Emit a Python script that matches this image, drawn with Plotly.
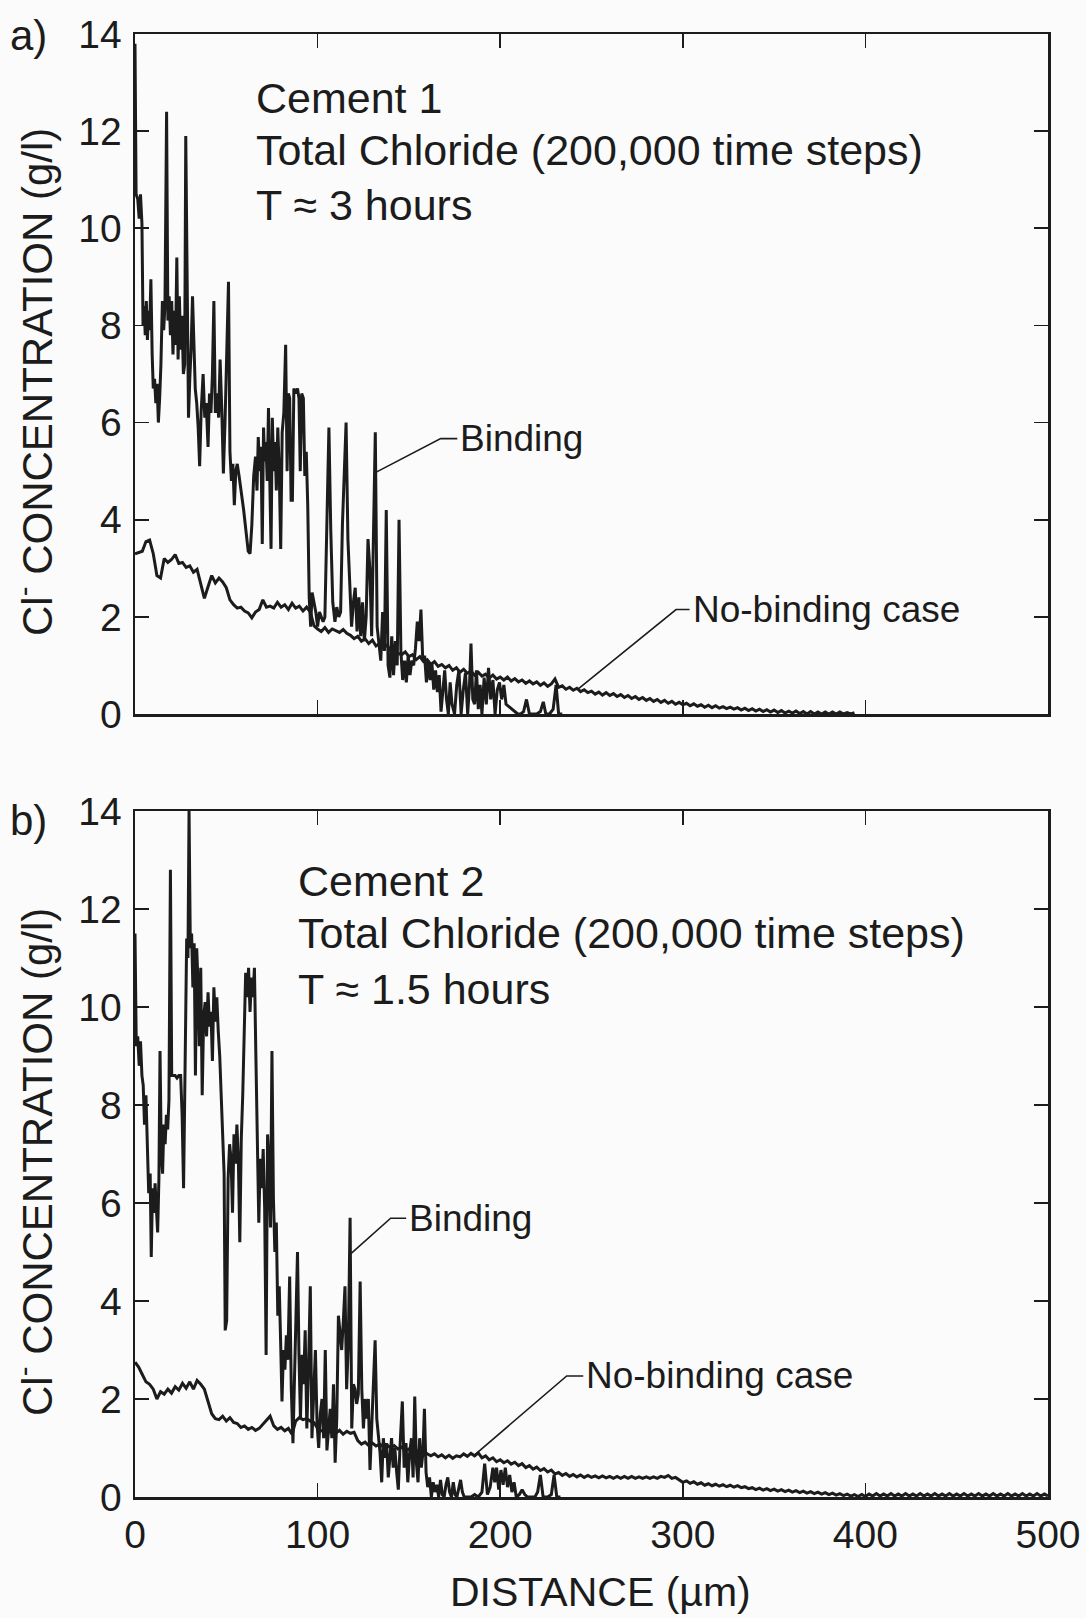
import plotly.graph_objects as go

# ---------------- data ----------------
X_TICKS = [0, 100, 200, 300, 400, 500]
Y_TICKS = [0, 2, 4, 6, 8, 10, 12, 14]

# Panel a) Cement 1 - binding case
A_BIND_X = [0, 0.6, 1.5, 2.3, 3.0, 3.8, 4.4, 5.0, 5.6, 6.2, 6.8, 7.4, 8.0, 8.7, 9.4, 10.0, 10.7, 11.4, 12.1, 12.8,
            13.5, 14.2, 15.0, 15.7, 16.4, 17.3, 18.0, 18.7, 19.4, 20.1, 20.8, 21.5, 22.2, 22.9, 23.6, 24.3, 25.0, 25.7,
            26.5, 27.2, 27.8, 28.6, 29.3, 30.0, 30.7, 31.5, 32.2, 33.0, 33.8, 34.6, 35.4, 36.2, 37.3, 38.2, 39.0, 40.0,
            40.8, 41.6, 42.4, 43.2, 44.0, 45.0, 45.8, 46.6, 47.5, 48.4, 49.3, 50.2, 51.2, 52.0, 52.8, 53.6, 54.4, 55.2,
            56.0, 57.0, 59.5, 62.0, 63.0, 64.0, 65.0, 66.0, 66.8, 67.5, 68.3, 69.0, 69.7, 70.4, 71.0, 71.7, 72.4, 73.1,
            73.8, 74.5, 75.2, 76.0, 76.7, 77.4, 78.2, 79.0, 79.8, 80.6, 81.5, 82.5, 83.3, 84.0, 84.7, 85.5, 86.2, 87.0,
            88.0, 89.0, 89.8, 90.5, 91.3, 92.2, 93.0, 93.8, 94.6, 95.4, 96.2, 97.0, 98.0, 99.0, 100.0, 101.0, 102.0,
            103.0, 104.0, 105.0, 106.2, 107.2, 108.3, 109.5, 110.5, 111.6, 112.6, 113.6, 114.6, 115.6, 116.6, 117.6,
            118.6, 119.6, 120.6, 121.6, 122.6, 123.6, 124.6, 125.6, 126.6, 127.6, 128.6, 129.6, 130.6, 131.6, 132.6,
            133.6, 134.6, 135.6, 136.6, 137.6, 138.6, 139.6, 140.6, 141.6, 142.6, 143.6, 144.6, 145.6, 146.6, 147.6,
            148.6, 149.6, 150.6, 151.6, 152.6, 153.6, 154.6, 155.6, 156.6, 157.6, 158.6, 159.6, 160.6, 161.6, 162.6,
            163.6, 164.6, 165.6, 166.6, 167.6, 168.6, 169.6, 170.6, 171.6, 172.6, 173.6, 175.0, 176.2, 177.4, 178.6,
            179.8, 181.0, 182.2, 183.2, 184.0, 185.0, 186.0, 187.0, 188.0, 189.0, 190.0, 191.2, 192.4, 193.6, 194.8,
            196.0, 197.2, 198.4, 199.6, 200.8, 202.0, 203.2, 204.8, 206.4, 208.0, 209.6, 211.2, 212.8, 214.4, 216.0,
            218.0, 220.0, 222.0, 223.6, 225.0, 227.0, 229.0, 230.6, 232.0, 234.0]
A_BIND_Y = [13.8, 10.7, 10.6, 10.2, 10.7, 10.1, 8.0, 8.4, 7.8, 8.5, 7.7, 8.3, 7.9, 8.95, 7.4, 6.7, 6.9, 6.4, 6.8, 6.0,
            6.5, 7.2, 8.5, 7.9, 8.4, 12.4, 8.1, 8.6, 7.8, 8.5, 7.4, 8.3, 7.6, 9.4, 7.3, 8.6, 7.5, 8.2,
            7.0, 7.2, 11.9, 7.7, 6.1, 6.9, 7.5, 8.6, 7.6, 6.7, 6.4, 5.9, 5.1, 6.2, 7.0, 6.1, 6.4, 5.5,
            6.6, 6.2, 7.0, 8.5, 6.2, 6.6, 6.1, 7.3, 6.3, 4.95, 6.0, 7.2, 8.9, 5.4, 4.8, 5.15, 4.3, 5.0,
            5.15, 4.9, 4.2, 3.35, 3.3, 3.9, 4.9, 5.3, 4.6, 5.7, 5.0, 5.5, 3.5, 5.9, 5.2, 5.6, 4.8, 6.3,
            5.1, 3.4, 6.1, 5.0, 5.6, 4.6, 5.9, 5.0, 3.4, 5.8, 6.2, 7.6, 5.0, 6.6, 6.5, 4.4, 4.4, 6.7,
            6.6, 6.7, 6.5, 5.0, 6.6, 6.5, 4.9, 5.4, 4.3, 2.4, 1.8, 2.5, 2.3, 2.1, 1.8, 2.1, 2.0,
            1.9, 2.0, 4.1, 5.9, 3.8, 2.3, 1.9, 2.2, 2.0, 2.1, 3.9, 4.8, 6.0, 3.6, 2.6,
            1.8, 2.3, 2.6, 1.7, 2.4, 1.6, 2.3, 1.5, 2.0, 3.6, 3.0, 1.6, 3.7, 5.8, 1.8,
            1.4, 1.1, 2.1, 1.3, 4.2, 1.0, 0.75, 1.6, 0.8, 1.5, 1.0, 4.0, 1.3, 0.7, 1.1,
            0.65, 1.2, 0.8, 1.1, 1.0, 1.35, 1.9, 1.5, 2.15, 1.1, 1.2, 0.65, 1.1, 0.7, 1.05,
            0.5, 0.9, 0.45, 0.8, 0.05, 0.5, 0.9, 0.3, 0.0, 0.65, 0.2, 0.0, 0.6, 0.9, 0.0,
            0.5, 0.85, 0.0, 0.6, 1.45, 0.3, 0.2, 0.9, 0.1, 0.6, 0.0, 0.75, 0.2, 0.95, 0.3,
            0.7, 0.0, 0.5, 0.65, 0.3, 0.6, 0.2, 0.15, 0.1, 0.05, 0.0, 0.0, 0.05, 0.3, 0.0,
            0.0, 0.0, 0.05, 0.25, 0.0, 0.0, 0.1, 0.6, 0.0, 0.0]

# Panel a) Cement 1 - no-binding case (sampled every 2 um)
A_NOBIND_X = list(range(0, 396, 2))
A_NOBIND_Y = [3.30, 3.32, 3.35, 3.55, 3.58, 3.30, 2.85, 2.80, 3.20, 3.12, 3.18, 3.28, 3.10, 3.12, 3.02, 3.05, 2.92,
              2.98, 2.70, 2.38, 2.62, 2.85, 2.70, 2.80, 2.72, 2.60, 2.35, 2.25, 2.18, 2.20, 2.12, 2.08, 1.98, 2.10,
              2.15, 2.35, 2.20, 2.22, 2.18, 2.30, 2.20, 2.25, 2.15, 2.28, 2.18, 2.22, 2.12, 2.20, 2.10, 1.82, 1.75,
              1.70, 1.78, 1.68, 1.75, 1.72, 1.68, 1.74, 1.66, 1.62, 1.55, 1.60, 1.50, 1.55, 1.45, 1.52, 1.40, 1.45,
              1.35, 1.42, 1.30, 1.36, 1.25, 1.22, 1.28, 1.18, 1.22, 1.12, 1.18, 1.08, 1.12, 1.02, 1.08, 0.98, 1.02,
              0.95, 1.00, 0.90, 0.95, 0.86, 0.92, 0.84, 0.88, 0.80, 0.86, 0.78, 0.82, 0.74, 0.80, 0.72, 0.76, 0.70,
              0.76, 0.68, 0.73, 0.66, 0.70, 0.63, 0.68, 0.62, 0.66, 0.59, 0.64, 0.57, 0.62, 0.72, 0.55, 0.58, 0.51,
              0.55, 0.49, 0.53, 0.46, 0.50, 0.44, 0.47, 0.41, 0.45, 0.39, 0.44, 0.38, 0.42, 0.36, 0.40, 0.34, 0.38,
              0.32, 0.36, 0.30, 0.34, 0.28, 0.32, 0.26, 0.30, 0.24, 0.28, 0.22, 0.26, 0.20, 0.24, 0.19, 0.22, 0.17,
              0.21, 0.16, 0.19, 0.14, 0.18, 0.13, 0.17, 0.12, 0.15, 0.11, 0.14, 0.10, 0.13, 0.08, 0.12, 0.07, 0.11,
              0.06, 0.10, 0.05, 0.09, 0.04, 0.08, 0.03, 0.07, 0.02, 0.06, 0.02, 0.06, 0.01, 0.05, 0.00, 0.05, 0.00,
              0.04, 0.00, 0.04, 0.00, 0.04, 0.00, 0.04, 0.00, 0.03, 0.00, 0.03, 0.00, 0.01]

# Panel b) Cement 2 - binding case
B_BIND_X = [0, 0.7, 1.5, 2.3, 3.0, 3.8, 4.5, 5.2, 6.0, 6.8, 7.5, 8.3, 8.9, 9.6, 10.3, 11.0, 11.7, 12.4, 13.1, 13.7,
            14.4, 15.1, 15.8, 16.5, 17.2, 17.9, 18.6, 19.4, 20.1, 21.0, 22.0, 23.0, 24.0, 25.0, 25.8, 26.6, 27.4,
            28.3, 29.0, 29.6, 30.3, 31.0, 31.7, 32.4, 33.1, 33.8, 34.5, 35.2, 36.0, 36.8, 37.6, 38.4, 39.2, 40.0,
            40.8, 41.6, 42.4, 43.2, 44.0, 44.8, 45.6, 46.4, 47.2, 48.0, 48.8, 49.4, 50.2, 51.0, 51.8, 52.6, 53.4,
            54.2, 55.0, 55.8, 56.6, 57.4, 58.2, 59.0, 59.8, 60.6, 61.4, 62.2, 63.0, 63.8, 64.6, 65.4, 66.2, 67.0,
            67.8, 68.6, 69.4, 70.2, 71.0, 71.8, 72.6, 73.4, 74.2, 75.0, 75.8, 76.6, 77.4, 78.2, 79.0, 79.8, 80.5,
            81.3, 82.1, 82.9, 83.7, 84.7, 85.6, 86.5, 87.4, 88.2, 89.0, 89.8, 90.6, 91.5, 92.3, 93.2, 94.1, 95.0,
            96.0, 96.9, 97.8, 98.8, 99.7, 100.6, 101.5, 102.4, 103.3, 104.2, 105.1, 106.0, 106.9, 107.8, 108.7,
            109.6, 110.5, 111.4, 112.3, 113.2, 114.1, 115.0, 115.9, 116.8, 117.8, 118.7, 119.6, 120.5, 121.4,
            122.3, 123.3, 124.2, 125.1, 126.0, 126.9, 127.8, 128.7, 129.6, 130.5, 131.5, 132.4, 133.3, 134.2,
            135.1, 136.0, 136.9, 137.8, 138.7, 139.6, 140.5, 141.4, 142.3, 143.3, 144.2, 145.1, 146.4, 147.4,
            148.4, 149.4, 150.4, 151.4, 152.3, 153.2, 154.1, 155.0, 155.9, 156.8, 157.7, 158.5, 159.4, 160.3,
            161.3, 162.3, 163.3, 164.3, 165.3, 166.3, 167.3, 168.3, 169.3, 170.3, 171.3, 172.3, 173.3, 174.3,
            175.3, 176.3, 177.3, 178.3, 179.3, 180.3, 182.0, 184.0, 186.0, 188.0, 190.0, 191.5, 193.0, 194.5,
            196.0, 197.0, 198.0, 199.2, 200.4, 201.6, 202.8, 204.0, 205.2, 206.4, 207.6, 208.8, 210.5, 212.0,
            213.5, 215.0, 217.0, 219.0, 220.5, 222.0, 223.5, 226.0, 228.0, 229.5, 231.0, 233.0]
B_BIND_Y = [11.5, 9.2, 9.4, 8.8, 9.3, 8.6, 8.4, 7.6, 8.2, 6.9, 6.2, 6.6, 4.9, 6.3, 5.8, 6.4, 6.0, 5.4, 6.5, 9.1,
            7.0, 6.6, 7.6, 7.2, 7.8, 7.5, 8.1, 12.8, 8.6, 8.6, 8.6, 8.55, 8.6, 8.6, 7.8, 6.3, 8.9,
            11.4, 11.0, 14.0, 11.2, 11.5, 10.4, 11.3, 8.6, 11.2, 10.5, 9.2, 10.8, 8.2, 9.8, 10.1, 9.4, 10.3,
            9.6, 9.9, 8.9, 10.4, 9.7, 10.2, 9.5, 9.0, 8.2, 7.3, 6.6, 3.4, 3.6, 6.5, 7.2, 6.9, 5.8,
            7.4, 6.8, 7.6, 6.9, 5.2, 7.3, 8.2, 9.6, 10.7, 10.2, 10.8, 9.9, 10.6, 10.2, 10.8, 9.0, 6.8,
            5.6, 6.9, 6.3, 7.1, 5.9, 2.9, 7.4, 6.8, 5.5, 9.1, 6.1, 5.0, 5.6, 3.7, 4.3, 3.1, 1.95,
            3.0, 2.6, 3.3, 2.8, 4.5, 2.2, 1.1, 2.5, 3.2, 5.0, 2.9, 1.6, 2.9, 2.3, 3.4, 1.4, 2.6,
            4.3, 1.2, 1.9, 3.0, 1.5, 1.0, 1.7, 2.0, 1.2, 3.0, 0.95, 1.5, 1.8, 1.2, 2.3,
            0.7, 1.6, 3.7, 3.3, 3.0, 3.6, 4.3, 2.2, 3.1, 5.7, 1.4, 2.3, 2.2, 1.9,
            2.1, 4.4, 2.2, 1.4, 2.0, 1.6, 2.0, 0.55, 1.3, 2.3, 3.2, 1.6, 1.2, 0.9,
            0.3, 1.2, 0.8, 1.1, 0.4, 0.9, 1.2, 0.6, 1.0, 0.5, 0.15, 1.0, 1.95, 0.6,
            1.1, 0.3, 0.9, 1.2, 0.4, 2.05, 0.7, 0.3, 1.2, 0.6, 0.9, 1.8, 0.5, 0.2,
            0.4, 0.0, 0.3, 0.1, 0.25, 0.0, 0.35, 0.05, 0.0, 0.25, 0.4, 0.1, 0.0, 0.3,
            0.05, 0.0, 0.2, 0.35, 0.1, 0.0, 0.0, 0.0, 0.05, 0.0, 0.1, 0.68, 0.05, 0.2,
            0.6, 0.3, 0.6, 0.15, 0.55, 0.25, 0.6, 0.2, 0.45, 0.1, 0.3, 0.0, 0.05, 0.15,
            0.05, 0.0, 0.0, 0.0, 0.1, 0.45, 0.0, 0.0, 0.05, 0.45, 0.0, 0.0]

# Panel b) Cement 2 - no-binding case (sampled every 2 um)
B_NOBIND_X = list(range(0, 502, 2))
B_NOBIND_Y = [2.75, 2.65, 2.50, 2.35, 2.30, 2.20, 2.00, 2.15, 2.10, 2.20, 2.12, 2.25, 2.18, 2.32, 2.22, 2.35, 2.20,
              2.38, 2.30, 2.20, 1.95, 1.70, 1.60, 1.58, 1.65, 1.55, 1.62, 1.52, 1.50, 1.42, 1.45, 1.38, 1.42, 1.36,
              1.40, 1.48, 1.55, 1.65, 1.45, 1.38, 1.42, 1.35, 1.40, 1.28, 1.55, 1.62, 1.58, 1.60, 1.55, 1.52, 1.40,
              1.35, 1.38, 1.32, 1.38, 1.30, 1.36, 1.28, 1.34, 1.30, 1.32, 1.15, 1.08, 1.12, 1.05, 1.10, 1.04, 1.08,
              1.02, 1.06, 1.00, 1.05, 0.98, 1.02, 0.94, 0.98, 0.92, 0.96, 0.90, 0.95, 0.88, 0.84, 0.88, 0.82, 0.86,
              0.80, 0.85, 0.79, 0.84, 0.82, 0.88, 0.83, 0.89, 0.84, 0.90, 0.80, 0.84, 0.76, 0.80, 0.72, 0.76, 0.70,
              0.74, 0.67, 0.71, 0.64, 0.68, 0.60, 0.64, 0.57, 0.61, 0.54, 0.58, 0.51, 0.55, 0.47, 0.50, 0.44, 0.48,
              0.42, 0.46, 0.41, 0.45, 0.40, 0.44, 0.40, 0.43, 0.39, 0.43, 0.39, 0.42, 0.38, 0.42, 0.38, 0.42, 0.38,
              0.42, 0.38, 0.41, 0.38, 0.41, 0.38, 0.41, 0.38, 0.42, 0.40, 0.44, 0.38, 0.40, 0.35, 0.30, 0.33, 0.28,
              0.31, 0.26, 0.29, 0.24, 0.27, 0.23, 0.26, 0.22, 0.25, 0.21, 0.24, 0.20, 0.23, 0.19, 0.21, 0.17, 0.19,
              0.15, 0.18, 0.14, 0.17, 0.13, 0.16, 0.12, 0.15, 0.11, 0.14, 0.10, 0.13, 0.09, 0.12, 0.08, 0.11, 0.07,
              0.10, 0.06, 0.09, 0.05, 0.08, 0.04, 0.07, 0.03, 0.06, 0.02, 0.05, 0.01, 0.05, 0.01, 0.06, 0.02, 0.07,
              0.02, 0.06, 0.02, 0.07, 0.02, 0.06, 0.02, 0.07, 0.02, 0.06, 0.02, 0.07, 0.02, 0.06, 0.02, 0.07, 0.02,
              0.06, 0.02, 0.07, 0.02, 0.06, 0.02, 0.07, 0.02, 0.06, 0.02, 0.07, 0.02, 0.06, 0.02, 0.07, 0.02, 0.06,
              0.02, 0.07, 0.02, 0.06, 0.02, 0.07, 0.02, 0.06, 0.02, 0.07, 0.02, 0.06, 0.02, 0.07, 0.02, 0.06, 0.03]

# Label anchor points (data units): leader line start, elbow, end (text starts at the end)
LABELS_A = [("Binding", [(131.6, 4.97), (167.4, 5.67), (176.5, 5.67)]),
            ("No-binding case", [(242.6, 0.51), (296.3, 2.15), (303.7, 2.15)])]
LABELS_B = [("Binding", [(117.8, 4.95), (140.0, 5.69), (148.5, 5.69)]),
            ("No-binding case", [(185.4, 0.84), (236.4, 2.47), (245.5, 2.47)])]

# ---------------- styling ----------------
W, H = 1086, 1618
INK = "#1c1c1c"
BG = "#fbfbfb"
FONT = "Liberation Sans, Arial, Helvetica, sans-serif"

# plot-area boxes in page pixels (left, top, right, bottom)
BOX_A = (135, 34, 1048, 714)
BOX_B = (135, 811, 1048, 1497)


def px(xp):
    return xp / W


def py(yp):
    return 1 - yp / H


fig = go.Figure()

line_style = dict(color=INK, width=3)
fig.add_trace(go.Scatter(x=A_NOBIND_X, y=A_NOBIND_Y, mode="lines", line=line_style,
                         xaxis="x", yaxis="y", showlegend=False, hoverinfo="skip"))
fig.add_trace(go.Scatter(x=A_BIND_X, y=A_BIND_Y, mode="lines", line=line_style,
                         xaxis="x", yaxis="y", showlegend=False, hoverinfo="skip"))
fig.add_trace(go.Scatter(x=B_NOBIND_X, y=B_NOBIND_Y, mode="lines", line=line_style,
                         xaxis="x2", yaxis="y2", showlegend=False, hoverinfo="skip"))
fig.add_trace(go.Scatter(x=B_BIND_X, y=B_BIND_Y, mode="lines", line=line_style,
                         xaxis="x2", yaxis="y2", showlegend=False, hoverinfo="skip"))

axis_common = dict(
    showline=True, linecolor=INK, linewidth=2.5, mirror="ticks",
    ticks="inside", ticklen=14, tickwidth=1.6, tickcolor=INK,
    showgrid=False, zeroline=False, fixedrange=True, automargin=False,
    tickfont=dict(family=FONT, size=39, color=INK),
)

fig.update_layout(
    width=W, height=H, autosize=False,
    margin=dict(l=0, r=0, t=0, b=0, pad=0, autoexpand=False),
    paper_bgcolor=BG, plot_bgcolor=BG,
    showlegend=False,
    xaxis=dict(axis_common, domain=[px(BOX_A[0]), px(BOX_A[2])], anchor="y", range=[0, 500],
               tickmode="array", tickvals=X_TICKS, showticklabels=False),
    yaxis=dict(axis_common, domain=[py(BOX_A[3]), py(BOX_A[1])], anchor="x", range=[0, 14],
               tickmode="array", tickvals=Y_TICKS, ticklabelstandoff=3),
    xaxis2=dict(axis_common, domain=[px(BOX_B[0]), px(BOX_B[2])], anchor="y2", range=[0, 500],
                tickmode="array", tickvals=X_TICKS, ticklabelstandoff=2),
    yaxis2=dict(axis_common, domain=[py(BOX_B[3]), py(BOX_B[1])], anchor="x2", range=[0, 14],
                tickmode="array", tickvals=Y_TICKS, ticklabelstandoff=3),
)

annotations = []
shapes = []


def text(x, y, s, size, xanchor="left", yanchor="middle", angle=0):
    annotations.append(dict(x=x, y=y, xref="paper", yref="paper", text=s, showarrow=False,
                            xanchor=xanchor, yanchor=yanchor, textangle=angle,
                            font=dict(family=FONT, size=size, color=INK)))


# panel letters
text(px(8), py(36), "a)", 42)
text(px(8), py(820), "b)", 42)

# panel captions
text(px(254), py(98), "Cement 1", 43)
text(px(254), py(150), "Total Chloride (200,000 time steps)", 43)
text(px(254), py(205), "T \u2248 3 hours", 43)
text(px(296), py(881), "Cement 2", 43)
text(px(296), py(933), "Total Chloride (200,000 time steps)", 43)
text(px(296), py(989), "T \u2248 1.5 hours", 43)

# axis titles
text(px(34), py((BOX_A[1] + BOX_A[3]) / 2 + 8), "Cl<sup>-</sup> CONCENTRATION (g/l)", 42,
     xanchor="center", yanchor="middle", angle=-90)
text(px(34), py((BOX_B[1] + BOX_B[3]) / 2 + 8), "Cl<sup>-</sup> CONCENTRATION (g/l)", 42,
     xanchor="center", yanchor="middle", angle=-90)
text(px(600), py(1592), "DISTANCE (\u00b5m)", 41, xanchor="center")

# curve labels with leader lines
for labels, xr, yr in ((LABELS_A, "x", "y"), (LABELS_B, "x2", "y2")):
    for label, pts in labels:
        path = "M " + " L ".join(f"{a},{b}" for a, b in pts)
        shapes.append(dict(type="path", path=path, xref=xr, yref=yr,
                           line=dict(color=INK, width=1.6)))
        annotations.append(dict(x=pts[-1][0], y=pts[-1][1], xref=xr, yref=yr, text=label,
                                showarrow=False, xanchor="left", yanchor="middle", xshift=1,
                                font=dict(family=FONT, size=37, color=INK)))

fig.update_layout(annotations=annotations, shapes=shapes)

fig.write_html("out.html", config={"displayModeBar": False, "staticPlot": True},
               post_script="document.body.style.margin='0';document.body.style.padding='0';")
